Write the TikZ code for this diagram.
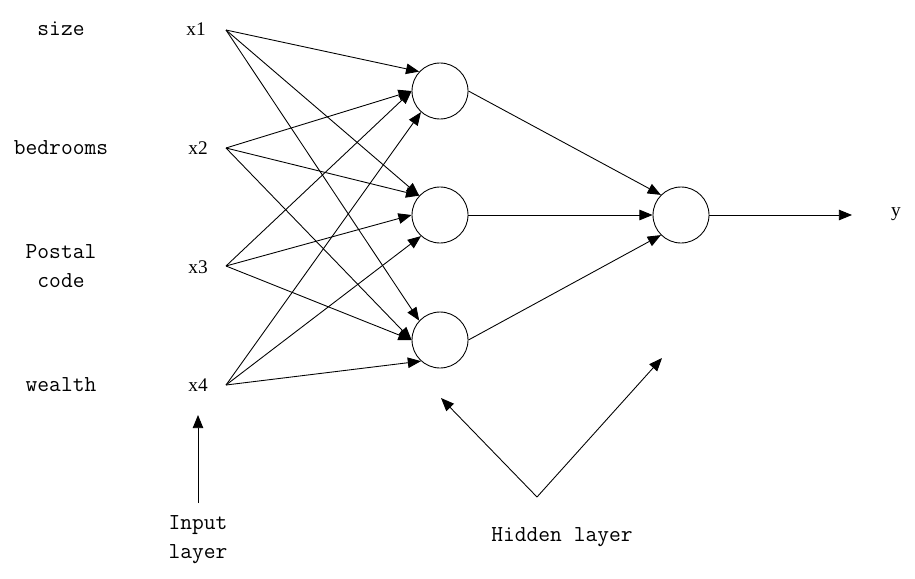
\documentclass[tikz,border=0pt]{standalone}
\usepackage{fontspec}
\newfontfamily\varfont{Liberation Serif}
\usetikzlibrary{arrows.meta}

\begin{document}
\begin{tikzpicture}[x=0.02cm, y=-0.02cm, line width=0.5pt,
    >={Triangle[length=7.5pt,width=6pt]},
    neuron/.style={draw, circle, minimum size=1.12cm, inner sep=0pt},
    feat/.style={font=\fontsize{13}{16.5}\selectfont\ttfamily, align=center},
    var/.style={font=\fontsize{11}{13}\selectfont\varfont}]
  \useasboundingbox (0,0) rectangle (915,578);

  % features
  \node[feat] (size) at (61,29) {size};
  \node[feat] (bedrooms) at (61,148) {bedrooms};
  \node[feat] (postal) at (61,266) {Postal\\code};
  \node[feat] (wealth) at (61,385) {wealth};

  % inputs
  \node[var] (x1) at (196,29) {x1};
  \node[var] (x2) at (198,148) {x2};
  \node[var] (x3) at (198,267) {x3};
  \node[var] (x4) at (198,385) {x4};
  \coordinate (in1) at (226,30);
  \coordinate (in2) at (226,148);
  \coordinate (in3) at (226,266);
  \coordinate (in4) at (226,385);

  % hidden and output units
  \node[neuron] (h1) at (440,91) {};
  \node[neuron] (h2) at (440,215) {};
  \node[neuron] (h3) at (440,340) {};
  \node[neuron] (out) at (681,215) {};
  \node[var] (y) at (896,214) {y};
  \coordinate (yend) at (852,215);

  \draw[->] (in1) to (h1.137);
  \draw[->] (in1) to (h2.137);
  \draw[->] (in1) to (h3.137);
  \draw[->] (in2) to (h1.180);
  \draw[->] (in2) to (h2.137);
  \draw[->] (in2) to (h3.180);
  \draw[->] (in3) to (h1.180);
  \draw[->] (in3) to (h2.180);
  \draw[->] (in3) to (h3.180);
  \draw[->] (in4) to (h1.228);
  \draw[->] (in4) to (h2.228);
  \draw[->] (in4) to (h3.228);

  \draw[->] (h1.east) to (out.135);
  \draw[->] (h2.east) to (out.west);
  \draw[->] (h3.east) to (out.225);
  \draw[->] (out.east) to (yend);

  % layer captions
  \node[feat] (inlayer) at (198,540) {Input\\layer};
  \coordinate (inptail) at (198,503);
  \coordinate (inptip) at (198,415);
  \draw[->] (inptail) to (inptip);

  \node[feat] (hidlayer) at (562,537) {Hidden layer};
  \coordinate (hidtail) at (537,497);
  \coordinate (hidA) at (441,398);
  \coordinate (hidB) at (662,358);
  \draw[->] (hidtail) to (hidA);
  \draw[->] (hidtail) to (hidB);

\end{tikzpicture}
\end{document}
